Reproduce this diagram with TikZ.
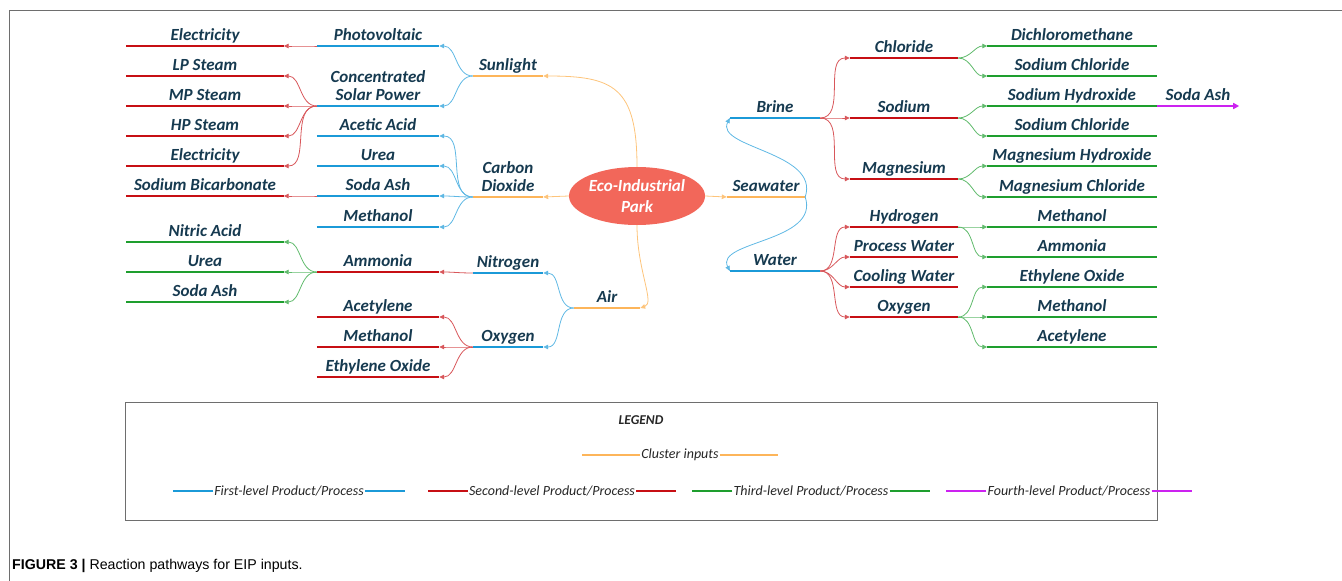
\documentclass[tikz,border=0pt]{standalone}
\usepackage{fontspec}
\setmainfont{Carlito}
\newfontfamily\capfont{Liberation Sans}
\usetikzlibrary{arrows.meta,shapes.geometric}
\definecolor{Ink}{HTML}{163A50}
\definecolor{Sky}{HTML}{1B9AD8}
\definecolor{Crimson}{HTML}{C70F14}
\definecolor{Leaf}{HTML}{1E9E2E}
\definecolor{Amber}{HTML}{FDB55A}
\definecolor{Violet}{HTML}{CC22F0}
\definecolor{Coral}{HTML}{F2675A}
\definecolor{Frame}{HTML}{6E6E6E}

\begin{document}
\begin{tikzpicture}[x=1pt,y=-1pt,every node/.style={font=\bfseries\itshape\fontsize{17}{19}\selectfont,text=Ink},
  lab/.style={anchor=south,inner xsep=0pt,inner ysep=2pt,text depth=3.8pt},
  bar/.style={line width=2.6pt},
  link/.style={line width=.8pt,-{Triangle[length=5pt,width=4.5pt]}},
  key/.style={font=\itshape\fontsize{14}{16}\selectfont,text=black!85,inner sep=1pt},
  keybar/.style={line width=2.4pt}]
\useasboundingbox (0,0) rectangle (1342,581);
\draw[Frame,line width=1.2pt] (9.5,581) -- (9.5,10.5) -- (1342,10.5);
\node[ellipse,fill=Coral,minimum width=120,minimum height=58,inner sep=0pt,align=center,text=white,font=\bfseries\itshape\fontsize{17}{21}\selectfont] (eip) at (637,196) {Eco-Industrial\\Park};
\foreach \n/\y/\c/\t in {e1/46/Crimson/Electricity,lp/76/Crimson/LP Steam,mp/106/Crimson/MP Steam,hp/136/Crimson/HP Steam,e2/166/Crimson/Electricity,bic/196/Crimson/Sodium Bicarbonate,nit/242/Leaf/Nitric Acid,ure2/272/Leaf/Urea,sa2/302/Leaf/Soda Ash}
  {\node[lab,minimum width=157] (\n) at (205,\y) {\t};
   \draw[bar,\c] (\n.south west) -- (\n.south east);}
\foreach \n/\y/\c/\t in {pv/46/Sky/Photovoltaic,csp/106/Sky/{\shortstack{Concentrated\\[2pt]Solar Power}},ace/136/Sky/Acetic Acid,ure/166/Sky/Urea,sa1/196/Sky/Soda Ash,met1/227/Sky/Methanol,amm/272/Crimson/Ammonia,acy/317/Crimson/Acetylene,met2/347/Crimson/Methanol,eto/377/Crimson/Ethylene Oxide}
  {\node[lab,minimum width=122] (\n) at (378,\y) {\t};
   \draw[bar,\c] (\n.south west) -- (\n.south east);}
\foreach \n/\y/\c/\t in {sun/76/Amber/Sunlight,co2/197/Amber/{\shortstack{Carbon\\[2pt]Dioxide}},nitro/273/Sky/Nitrogen,oxy/347/Sky/Oxygen}
  {\node[lab,minimum width=70] (\n) at (508,\y) {\t};
   \draw[bar,\c] (\n.south west) -- (\n.south east);}
\node[lab,minimum width=66] (air) at (607,308) {Air};
\draw[bar,Amber] (air.south west) -- (air.south east);
\node[lab,minimum width=78] (sea) at (766,197) {Seawater};
\draw[bar,Amber] (sea.south west) -- (sea.south east);
\foreach \n/\y/\t in {brine/118/Brine,water/271/Water}
  {\node[lab,minimum width=90] (\n) at (775,\y) {\t};
   \draw[bar,Sky] (\n.south west) -- (\n.south east);}
\foreach \n/\y/\t in {chl/58/Chloride,sod/118/Sodium,mag/179/Magnesium,hyd/227/Hydrogen,pw/257/Process Water,cw/287/Cooling Water,oxr/317/Oxygen}
  {\node[lab,minimum width=108] (\n) at (904,\y) {\t};
   \draw[bar,Crimson] (\n.south west) -- (\n.south east);}
\foreach \n/\y/\t in {dcm/46/Dichloromethane,nac1/76/Sodium Chloride,naoh/106/Sodium Hydroxide,nac2/136/Sodium Chloride,mgoh/166/Magnesium Hydroxide,mgcl/197/Magnesium Chloride,meo1/227/Methanol,amr/257/Ammonia,etr/287/Ethylene Oxide,meo2/317/Methanol,acr/347/Acetylene}
  {\node[lab,minimum width=169] (\n) at (1072,\y) {\t};
   \draw[bar,Leaf] (\n.south west) -- (\n.south east);}
\node[lab,minimum width=82] (soda) at (1198,106) {Soda Ash};
\draw[bar,Violet,-{Triangle[length=6pt,width=6pt]}] (naoh.south east) -- (soda.south east);
\foreach \p/\k/\c in {pv/e1/Crimson,csp/lp/Crimson,csp/mp/Crimson,csp/hp/Crimson,csp/e2/Crimson,sa1/bic/Crimson,sun/pv/Sky,sun/csp/Sky,co2/ace/Sky,co2/ure/Sky,co2/sa1/Sky,co2/met1/Sky,air/nitro/Sky,air/oxy/Sky,nitro/amm/Crimson,amm/nit/Leaf,amm/ure2/Leaf,amm/sa2/Leaf,oxy/acy/Crimson,oxy/met2/Crimson,oxy/eto/Crimson}
  \draw[link,\c!70] (\p.south west) to[out=180,in=0] (\k.south east);
\foreach \p/\k/\c in {brine/chl/Crimson,brine/sod/Crimson,brine/mag/Crimson,water/hyd/Crimson,water/pw/Crimson,water/cw/Crimson,water/oxr/Crimson,chl/dcm/Leaf,chl/nac1/Leaf,sod/naoh/Leaf,sod/nac2/Leaf,mag/mgoh/Leaf,mag/mgcl/Leaf,hyd/meo1/Leaf,hyd/amr/Leaf,oxr/etr/Leaf,oxr/meo2/Leaf,oxr/acr/Leaf}
  \draw[link,\c!70] (\p.south east) to[out=0,in=180] (\k.south west);
\draw[link,Sky!70] (sea.south east) .. controls +(15,-45) and +(-15,30) .. (brine.south west);
\draw[link,Sky!70] (sea.south east) .. controls +(15,45) and +(-15,-30) .. (water.south west);
\draw[link,Amber!80] (eip.west) -- (co2.south east);
\draw[link,Amber!80] (eip.east) -- (sea.south west);
\draw[link,Amber!80] (eip.north) .. controls +(0,-80) and +(70,0) .. (sun.south east);
\draw[link,Amber!80] (eip.south) .. controls +(0,45) and +(15,-5) .. (air.south east);
\draw[Frame,line width=1pt] (125,402) rectangle (1157,520);
\node[font=\bfseries\itshape\fontsize{13.5}{15}\selectfont,text=black!85] (leg) at (641,420) {LEGEND};
\node[key] (clu) at (680,455) {Cluster inputs};
\draw[keybar,Amber] (clu.west) -- ++(-58,0) (clu.east) -- ++(58,0);
\foreach \n/\x/\c/\t in {k1/289/Sky/{First-level Product/Process},k2/552/Crimson/{Second-level Product/Process},k3/811/Leaf/{Third-level Product/Process},k4/1069/Violet/{Fourth-level Product/Process}}
  {\node[key] (\n) at (\x,491) {\t};
   \draw[keybar,\c] (\n.west) -- ++(-40,0) (\n.east) -- ++(40,0);}
\node[anchor=base west,inner sep=0pt,text=black,font=\capfont\fontsize{14.2}{16}\selectfont] (cap) at (12,569) {\textbf{FIGURE 3 |} Reaction pathways for EIP inputs.};
\end{tikzpicture}
\end{document}
